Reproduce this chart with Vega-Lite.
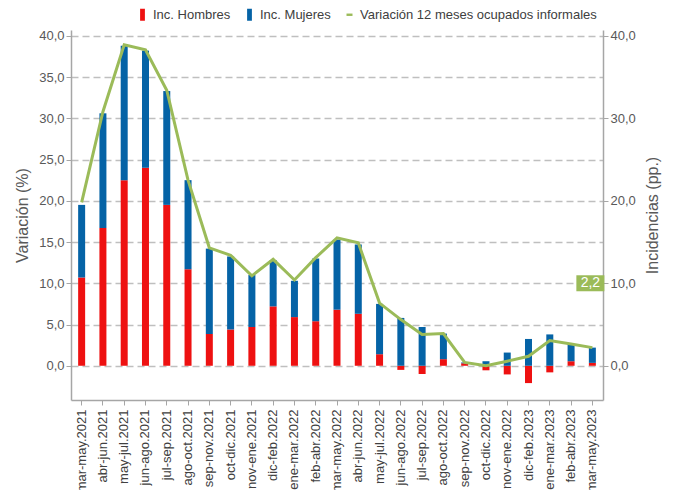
{
  "$schema": "https://vega.github.io/schema/vega-lite/v6.json",
  "autosize": {"type": "none"},
  "width": 532,
  "height": 370,
  "padding": {"left": 71, "top": 30, "right": 70, "bottom": 90},
  "background": "white",
  "config": {
    "font": "Liberation Sans",
    "view": {"stroke": null},
    "axis": {"labelFont": "Liberation Sans", "titleFont": "Liberation Sans", "labelColor": "#595959", "titleColor": "#595959", "labelFontSize": 13, "titleFontSize": 16, "titleFontWeight": "normal", "domainColor": "#A6A6A6", "tickColor": "#A6A6A6", "domainWidth": 1.5}
  },
  "data": {"values": [
      {"periodo": "mar-may.2021", "hombres": 10.7, "mujeres": 8.8, "variacion": 19.8},
      {"periodo": "abr-jun.2021", "hombres": 16.7, "mujeres": 13.9, "variacion": 30.8},
      {"periodo": "may-jul.2021", "hombres": 22.5, "mujeres": 16.3, "variacion": 38.9},
      {"periodo": "jun-ago.2021", "hombres": 24.0, "mujeres": 14.2, "variacion": 38.3},
      {"periodo": "jul-sep.2021", "hombres": 19.5, "mujeres": 13.8, "variacion": 33.4},
      {"periodo": "ago-oct.2021", "hombres": 11.7, "mujeres": 10.8, "variacion": 22.5},
      {"periodo": "sep-nov.2021", "hombres": 3.85, "mujeres": 10.35, "variacion": 14.3},
      {"periodo": "oct-dic.2021", "hombres": 4.4, "mujeres": 8.85, "variacion": 13.4},
      {"periodo": "nov-ene.2021", "hombres": 4.7, "mujeres": 6.3, "variacion": 10.9},
      {"periodo": "dic-feb.2022", "hombres": 7.2, "mujeres": 5.6, "variacion": 12.9},
      {"periodo": "ene-mar.2022", "hombres": 5.9, "mujeres": 4.4, "variacion": 10.4},
      {"periodo": "feb-abr.2022", "hombres": 5.4, "mujeres": 7.6, "variacion": 13.1},
      {"periodo": "mar-may.2022", "hombres": 6.8, "mujeres": 8.5, "variacion": 15.5},
      {"periodo": "abr-jun.2022", "hombres": 6.3, "mujeres": 8.4, "variacion": 14.9},
      {"periodo": "may-jul.2022", "hombres": 1.4, "mujeres": 6.1, "variacion": 7.6},
      {"periodo": "jun-ago.2022", "hombres": -0.5, "mujeres": 5.8, "variacion": 5.6},
      {"periodo": "jul-sep.2022", "hombres": -1.0, "mujeres": 4.7, "variacion": 3.8},
      {"periodo": "ago-oct.2022", "hombres": 0.8, "mujeres": 3.1, "variacion": 3.9},
      {"periodo": "sep-nov.2022", "hombres": 0.3, "mujeres": 0.1, "variacion": 0.4},
      {"periodo": "oct-dic.2022", "hombres": -0.55, "mujeres": 0.55, "variacion": 0.0},
      {"periodo": "nov-ene.2022", "hombres": -1.05, "mujeres": 1.6, "variacion": 0.55},
      {"periodo": "dic-feb.2023", "hombres": -2.1, "mujeres": 3.25, "variacion": 1.15},
      {"periodo": "ene-mar.2023", "hombres": -0.8, "mujeres": 3.8, "variacion": 3.05},
      {"periodo": "feb-abr.2023", "hombres": 0.55, "mujeres": 2.1, "variacion": 2.65},
      {"periodo": "mar-may.2023", "hombres": 0.35, "mujeres": 1.85, "variacion": 2.2}
  ]},
  "encoding": {
    "x": {
      "field": "periodo", "type": "nominal", "sort": null, "title": null,
      "scale": {"paddingInner": 0, "paddingOuter": 0},
      "axis": {"labelAngle": -90, "labelAlign": "right", "labelBaseline": "middle", "labelPadding": 4, "tickSize": 5, "labelColor": "#404040", "labelFontSize": 13}
    }
  },
  "layer": [
    {
      "transform": [{"fold": ["hombres", "mujeres"], "as": ["serieNombre", "valor"]}],
      "mark": {"type": "bar", "size": 7},
      "encoding": {
        "y": {
          "field": "valor", "type": "quantitative", "stack": "zero",
          "scale": {"domain": [-4.15, 40.7], "nice": false, "zero": false},
          "axis": {"orient": "left", "title": "Variación (%)", "values": [0, 5, 10, 15, 20, 25, 30, 35, 40], "labelExpr": "replace(format(datum.value, '.1f'), '.', ',')", "grid": true, "gridColor": "#BFBFBF", "gridDash": [7, 4], "gridWidth": 1.5, "tickSize": 5, "titlePadding": 8}
        },
        "color": {
          "field": "serieNombre", "type": "nominal",
          "scale": {"domain": ["hombres", "mujeres", "variacion"], "range": ["#EE1111", "#0563A6", "#9BBB59"]},
          "legend": {
            "title": null, "orient": "none", "direction": "horizontal", "legendX": 65, "legendY": -22,
            "labelFont": "Liberation Sans", "labelFontSize": 13, "labelColor": "#404040", "labelOffset": 4, "columnPadding": 12, "labelLimit": 400,
            "symbolSize": 144, "symbolType": "M-0.4,-1H0.4V1H-0.4Z",
            "labelExpr": "datum.value === 'hombres' ? 'Inc. Hombres' : datum.value === 'mujeres' ? 'Inc. Mujeres' : 'Variación 12 meses ocupados informales'",
            "encode": {"symbols": {"update": {
              "shape": {"signal": "datum.value === 'variacion' ? 'M-0.5,-0.2H0.5V0.2H-0.5Z' : 'M-0.4,-1H0.4V1H-0.4Z'"},
              "fill": {"scale": "color", "field": "value"},
              "fillOpacity": {"value": 1},
              "strokeWidth": {"value": 0}
            }}}
          }
        },
        "order": {"field": "serieNombre", "type": "nominal"}
      }
    },
    {
      "mark": {"type": "line", "strokeWidth": 3},
      "encoding": {
        "y": {
          "field": "variacion", "type": "quantitative",
          "scale": {"domain": [-4.15, 40.7], "nice": false, "zero": false},
          "axis": {"orient": "right", "title": "Incidencias (pp.)", "titleAngle": -90, "titleBaseline": "top", "values": [0, 10, 20, 30, 40], "labelExpr": "replace(format(datum.value, '.1f'), '.', ',')", "grid": false, "tickSize": 5, "titlePadding": 9}
        },
        "color": {"datum": "variacion"}
      }
    },
    {
      "transform": [{"filter": "datum.periodo === 'mar-may.2023'"}],
      "mark": {"type": "point", "filled": true, "opacity": 1, "shape": "M-1.75,-1H1.75V1H-1.75Z", "size": 256, "color": "#9BBB59", "xOffset": -2},
      "encoding": {"y": {"datum": 10, "type": "quantitative", "scale": {"domain": [-4.15, 40.7], "nice": false, "zero": false}, "axis": null}}
    },
    {
      "transform": [
        {"filter": "datum.periodo === 'mar-may.2023'"},
        {"calculate": "replace(format(datum.variacion, '.1f'), '.', ',')", "as": "etiqueta"}
      ],
      "mark": {"type": "text", "color": "white", "fontSize": 14, "font": "Liberation Sans", "xOffset": -2, "baseline": "middle", "align": "center"},
      "encoding": {
        "y": {"datum": 10, "type": "quantitative", "scale": {"domain": [-4.15, 40.7], "nice": false, "zero": false}, "axis": null},
        "text": {"field": "etiqueta"}
      }
    }
  ],
  "resolve": {"scale": {"y": "independent"}}
}
